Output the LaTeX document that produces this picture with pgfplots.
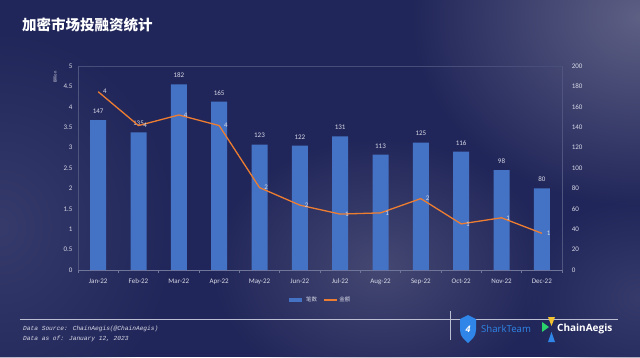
\documentclass[border=0pt]{standalone}
\usepackage{pgfplots}
\pgfplotsset{compat=1.18}
\usepackage{fontspec}
\setmainfont{Carlito}
\newfontfamily\cjk{Noto Sans CJK SC}
\newfontfamily\monoit{Liberation Mono}
\newfontfamily\osans{Open Sans}
\usetikzlibrary{fadings}
\definecolor{bg}{HTML}{21265A}
\definecolor{barblue}{HTML}{4472C4}
\definecolor{lineorange}{HTML}{ED7D31}
\definecolor{axisgrey}{HTML}{70759A}
\definecolor{txt}{HTML}{D8DAE6}
\definecolor{glowA}{HTML}{5E6084}
\definecolor{glowB}{HTML}{454872}
\definecolor{glowC}{HTML}{363B6C}
\definecolor{sharkblue}{HTML}{2F86E8}
\definecolor{cagreen}{HTML}{2BD26B}
\definecolor{cayellow}{HTML}{F2C230}
\tikzfading[name=glow, inner color=transparent!0, outer color=transparent!100]

\pgfplotstableread{
x y lab
0 4.37 4
1 3.54 4
2 3.80 4
3 3.54 4
4 2.02 2
5 1.59 2
6 1.37 1
7 1.40 1
8 1.75 2
9 1.13 1
10 1.28 1
11 0.90 1
}\amount

\begin{document}
\begin{tikzpicture}[x=1pt,y=1pt]
\fill[bg] (0,0) rectangle (640,357);
\useasboundingbox (0,0) rectangle (640,357);
\begin{scope}
\clip (0,0) rectangle (640,357);
\fill[glowA, path fading=glow] (640,340) ellipse (230 and 190);
\fill[glowB, path fading=glow] (380,90) ellipse (170 and 130);
\fill[glowC, path fading=glow] (0,130) ellipse (180 and 200);
\fill[glowC, path fading=glow] (640,60) ellipse (120 and 100);
\end{scope}

% title
\node[anchor=west, text=white, inner sep=0pt] at (22,332) {\cjk\bfseries\fontsize{14.5}{16}\selectfont 加密市场投融资统计};

% bars (right axis)
\begin{axis}[
  at={(78pt,87pt)}, anchor=south west, scale only axis,
  width=484pt, height=204pt,
  xmin=-0.5, xmax=11.5, ymin=0, ymax=200,
  axis y line*=right, axis x line*=bottom,
  x axis line style={draw=axisgrey, line width=0.8pt, -},
  y axis line style={draw=axisgrey!60!bg, line width=0.6pt, -},
  xtick={0,...,11},
  xticklabels={Jan-22,Feb-22,Mar-22,Apr-22,May-22,Jun-22,Jul-22,Aug-22,Sep-22,Oct-22,Nov-22,Dec-22},
  major x tick style={draw=none},
  minor xtick={-0.5,0.5,...,11.5},
  minor x tick style={draw=axisgrey, line width=0.6pt},
  minor tick length=2.5pt, tick align=outside,
  ytick={0,20,...,200}, major y tick style={draw=none},
  ticklabel style={font=\fontsize{7}{8}\selectfont, text=txt},
  xticklabel style={yshift=-1pt},
  yticklabel style={xshift=2pt},
  /pgf/number format/assume math mode=true,
  clip=false,
]
\addplot[ybar, bar width=16pt, fill=barblue, draw=none,
  nodes near coords,
  nodes near coords style={font=\fontsize{7}{8}\selectfont, text=txt, yshift=3pt}]
  coordinates {(0,147) (1,135) (2,182) (3,165) (4,123) (5,122) (6,131) (7,113) (8,125) (9,116) (10,98) (11,80)};
\draw[axisgrey!50!bg, line width=0.6pt] (rel axis cs:0,1) -- (rel axis cs:1,1);
\end{axis}

% line (left axis)
\begin{axis}[
  at={(78pt,87pt)}, anchor=south west, scale only axis,
  width=484pt, height=204pt,
  xmin=-0.5, xmax=11.5, ymin=0, ymax=5,
  axis y line*=left, axis x line=none,
  y axis line style={draw=axisgrey!60!bg, line width=0.6pt, -},
  ytick={0,0.5,...,5}, major y tick style={draw=none},
  yticklabel style={font=\fontsize{7}{8}\selectfont, text=txt, xshift=-2pt,
    /pgf/number format/fixed},
  /pgf/number format/assume math mode=true,
  clip=false,
  legend style={at={(axis description cs:0.5,-0.147)}, anchor=center,
    draw=none, fill=none, text=txt, font=\cjk\fontsize{5.5}{6}\selectfont,
    legend columns=2, /tikz/every even column/.append style={column sep=4pt}},
  legend image code/.code={\draw[#1] (0pt,0pt) -- (13pt,0pt);},
]
\addlegendimage{barblue, line width=3.5pt}
\addlegendentry{笔数}
\addplot[lineorange, line width=1.3pt, mark=none,
  point meta=explicit symbolic,
  nodes near coords,
  nodes near coords style={font=\fontsize{7}{8}\selectfont, text=txt, anchor=west, xshift=1pt, yshift=0pt}]
  table[x=x, y=y, meta=lab] {\amount};
\addlegendentry{金额}
\end{axis}

\node[rotate=90, text=txt, font=\fontsize{4.5}{5}\selectfont] at (55,280) {Billion};

% footer
\draw[txt!85!bg, line width=1pt] (20,38) -- (618,38);
\draw[txt!85!bg, line width=0.6pt] (450,46) -- (450,17);
\node[anchor=west, text=txt, inner sep=0pt, font=\monoit\itshape\fontsize{6.2}{7}\selectfont] at (23,28) {Data Source: ChainAegis(@ChainAegis)};
\node[anchor=west, text=txt, inner sep=0pt, font=\monoit\itshape\fontsize{6.2}{7}\selectfont] at (23,18) {Data as of: January 12, 2023};

% logos
\fill[sharkblue] (460,38) -- (468,42) -- (476,38) -- (476,27) .. controls (476,20) and (471,17) .. (468,14) .. controls (465,17) and (460,20) .. (460,27) -- cycle;
\node[text=white, font=\osans\itshape\bfseries\fontsize{9}{10}\selectfont] at (468,28) {4};
\node[anchor=west, text=sharkblue, inner sep=0pt, font=\osans\fontsize{9.6}{10}\selectfont] at (481,28) {SharkTeam};
\fill[cagreen] (542,35) -- (549,30) -- (542,25) -- cycle;
\fill[cayellow] (548,40) -- (555,40) -- (551.5,31) -- cycle;
\fill[sharkblue] (548,15) -- (555,15) -- (551.5,25) -- cycle;
\node[anchor=west, text=white, inner sep=0pt, font=\osans\bfseries\fontsize{10}{11}\selectfont] at (557,28) {ChainAegis};
\end{tikzpicture}
\end{document}
